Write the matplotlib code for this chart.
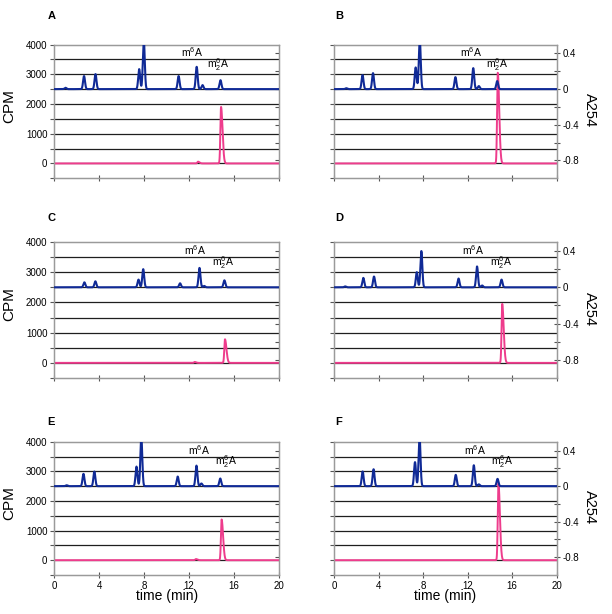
import matplotlib.pyplot as plt
import numpy as np

plt.rcParams['font.family'] = ['Liberation Sans', 'DejaVu Sans']
plt.rcParams['axes.unicode_minus'] = False
plt.rcParams['mathtext.fontset'] = 'custom'
plt.rcParams['mathtext.rm'] = 'Liberation Sans'
plt.rcParams['mathtext.it'] = 'Liberation Sans:italic'

panel_letters = ['A', 'B', 'C', 'D', 'E', 'F']

# A254 trace (blue): peak retention times (min) and heights (A254)
uv_times = [
    [1.0, 2.65, 3.67, 7.56, 7.97, 11.07, 12.68, 13.2, 14.8],
    [1.1, 2.56, 3.5, 7.33, 7.7, 10.9, 12.5, 13.0, 14.65],
    [2.68, 3.66, 7.5, 7.92, 11.2, 12.93, 13.35, 15.15],
    [1.0, 2.63, 3.59, 7.43, 7.84, 11.18, 12.84, 13.3, 15.04],
    [1.1, 2.6, 3.57, 7.32, 7.75, 10.99, 12.66, 13.1, 14.78],
    [2.57, 3.55, 7.27, 7.68, 10.93, 12.55, 13.0, 14.68],
]
uv_heights = [
    [0.015, 0.146, 0.168, 0.224, 0.55, 0.146, 0.25, 0.045, 0.10],
    [0.01, 0.157, 0.179, 0.243, 0.55, 0.134, 0.235, 0.034, 0.09],
    [0.055, 0.066, 0.085, 0.2, 0.044, 0.214, 0.015, 0.077],
    [0.01, 0.104, 0.119, 0.167, 0.40, 0.097, 0.23, 0.02, 0.085],
    [0.01, 0.138, 0.164, 0.22, 0.55, 0.108, 0.231, 0.03, 0.086],
    [0.165, 0.19, 0.27, 0.55, 0.127, 0.235, 0.02, 0.082],
]

# radioactivity trace (pink): peak retention times (min) and heights (CPM)
cpm_times = [
    [12.8, 14.85],
    [14.7],
    [12.5, 15.2],
    [15.1],
    [12.6, 14.9],
    [14.76],
]
cpm_heights = [
    [60, 1900],
    [3050],
    [30, 780],
    [1950],
    [40, 1375],
    [2600],
]

# label positions along the time axis (min)
m6a_label_x = [12.3, 12.26, 12.56, 12.5, 12.9, 12.7]
m62a_label_x = [14.6, 14.6, 15.0, 14.95, 15.3, 15.1]

cpm_ticks = np.arange(-500, 4001, 500)
a254_ticks = [-0.8, -0.6, -0.4, -0.2, 0.0, 0.2, 0.4]
a254_labels = {-0.8: '-0.8', -0.4: '-0.4', 0.0: '0', 0.4: '0.4'}
time_ticks = [0, 4, 8, 12, 16, 20]

blue = '#102a96'
pink = '#ee3c8c'
frame = '#9a9a9a'

t = np.linspace(0, 20, 4001)


def trace(times, heights, left_w, right_w):
    y = np.zeros_like(t)
    for t0, h in zip(times, heights):
        w = np.where(t < t0, left_w, right_w)
        y += h * np.exp(-0.5 * ((t - t0) / w) ** 2)
    return y


fig = plt.figure(figsize=(6.12, 6.14), dpi=100)

col_x = [0.0887, 0.5458]
col_w = [0.367, 0.364]
row_y = [0.7096, 0.3844, 0.0635]
row_h = [0.2179, 0.2215, 0.2171]
letter_pos = [(0.078, 0.974), (0.547, 0.974), (0.078, 0.645),
              (0.547, 0.645), (0.078, 0.312), (0.547, 0.312)]

for i in range(6):
    row, col = divmod(i, 2)
    ax = fig.add_axes([col_x[col], row_y[row], col_w[col], row_h[row]])
    ax.set_xlim(0, 20)
    ax.set_ylim(-500, 4000)
    for y in cpm_ticks[1:-1]:
        ax.axhline(y, color='#1e1e1e', lw=0.9, zorder=1)
    ax.plot(t, trace(cpm_times[i], cpm_heights[i], 0.06, 0.13),
            color=pink, lw=1.4, zorder=3)

    ax.set_yticks(cpm_ticks)
    if col == 0:
        ax.set_yticklabels([str(v) if v % 1000 == 0 and v >= 0 else ''
                            for v in cpm_ticks])
        ax.set_ylabel('CPM', fontsize=11)
        ax.yaxis.set_label_coords(-0.17, 0.54)
    else:
        ax.set_yticklabels([])
    ax.tick_params(axis='y', direction='out', length=3, color='#555555',
                   labelsize=7, pad=2)

    ax.set_xticks(time_ticks)
    if row == 2:
        ax.set_xlabel('time (min)', fontsize=10, labelpad=-1)
    else:
        ax.set_xticklabels([])
    ax.tick_params(axis='x', direction='inout', length=4, color='#555555',
                   labelsize=7, pad=2)

    ax2 = ax.twinx()
    ax2.set_ylim(-1.0, 0.5)
    ax2.plot(t, trace(uv_times[i], uv_heights[i], 0.085, 0.085),
             color=blue, lw=1.5, zorder=4)
    ax2.set_yticks(a254_ticks)
    if col == 1:
        ax2.set_yticklabels([a254_labels.get(v, '') for v in a254_ticks])
        ax2.tick_params(axis='y', direction='inout', length=4,
                        color='#555555', labelsize=7, pad=2)
        ax2.set_ylabel('A254', fontsize=10.5, rotation=270)
        ax2.yaxis.set_label_coords(1.18, 0.51)
    else:
        ax2.set_yticklabels([])
        ax2.tick_params(axis='y', direction='in', length=3, color='#555555')

    for a in (ax, ax2):
        for s in a.spines.values():
            s.set_color(frame)
            s.set_linewidth(0.9)

    ax.text(m6a_label_x[i], 3500, 'm$^6$A', fontsize=7.5, ha='center',
            va='bottom', zorder=5)
    ax.text(m62a_label_x[i], 3030, 'm$_2^6$A', fontsize=7.5, ha='center',
            va='bottom', zorder=5)

    fig.text(letter_pos[i][0], letter_pos[i][1], panel_letters[i],
             fontsize=8, fontweight='bold', va='center')

fig.savefig('out.png', dpi=100)
